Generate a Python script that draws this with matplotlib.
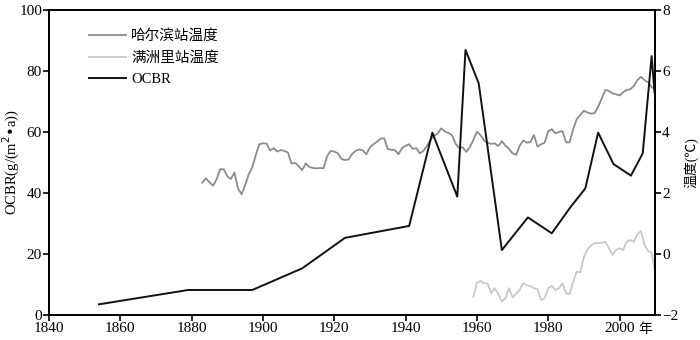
import matplotlib.pyplot as plt
import matplotlib.transforms as mtransforms

plt.rcParams['font.family'] = ['Liberation Serif', 'Noto Sans CJK SC']
plt.rcParams['axes.unicode_minus'] = True

# OCBR record (g/(m2 a))
ocbr_year = [1854, 1879, 1897, 1911, 1923, 1941, 1947.5, 1954.5, 1956.8, 1960.5,
             1967, 1974.3, 1981, 1986, 1990.4, 1994, 1998.3, 2003.2, 2006.5, 2009, 2009.8]
ocbr_val = [3.5, 8.2, 8.2, 15.3, 25.3, 29.2, 59.8, 38.8, 86.9, 76.0,
            21.3, 32.0, 26.8, 35.0, 41.5, 59.8, 49.5, 45.7, 53.0, 84.9, 73.0]

# Harbin station temperature (deg C), 1883-2010
harbin_start = 1883
harbin_temp = [2.34, 2.48, 2.35, 2.24, 2.45, 2.78, 2.78, 2.55, 2.46, 2.67,
               2.15, 1.96, 2.25, 2.61, 2.84, 3.25, 3.60, 3.63, 3.62, 3.39,
               3.47, 3.36, 3.41, 3.38, 3.33, 2.97, 2.99, 2.88, 2.75, 2.97,
               2.86, 2.82, 2.81, 2.82, 2.81, 3.21, 3.38, 3.36, 3.30, 3.12,
               3.08, 3.10, 3.28, 3.38, 3.43, 3.40, 3.27, 3.50, 3.60, 3.68,
               3.79, 3.79, 3.44, 3.42, 3.41, 3.27, 3.47, 3.55, 3.60, 3.45,
               3.47, 3.30, 3.38, 3.55, 3.74, 3.88, 3.95, 4.12, 4.02, 3.97,
               3.90, 3.62, 3.47, 3.50, 3.35, 3.50, 3.74, 4.01, 3.90, 3.72,
               3.65, 3.61, 3.63, 3.54, 3.70, 3.55, 3.45, 3.30, 3.25, 3.55,
               3.72, 3.65, 3.67, 3.90, 3.52, 3.60, 3.65, 4.03, 4.09, 3.96,
               4.00, 4.03, 3.66, 3.66, 4.10, 4.42, 4.56, 4.70, 4.64, 4.60,
               4.62, 4.83, 5.10, 5.38, 5.35, 5.27, 5.24, 5.20, 5.30, 5.38,
               5.40, 5.51, 5.70, 5.81, 5.70, 5.63, 5.47, 5.40]

# Manzhouli station temperature (deg C), 1959-2010
manzhouli_start = 1959
manzhouli_temp = [-1.40, -0.95, -0.88, -0.96, -0.97, -1.29, -1.12, -1.30, -1.56, -1.45,
                  -1.12, -1.42, -1.30, -1.18, -0.95, -1.02, -1.05, -1.12, -1.15, -1.51,
                  -1.45, -1.12, -1.05, -1.18, -1.12, -0.96, -1.29, -1.31, -0.90, -0.58,
                  -0.60, -0.09, 0.15, 0.28, 0.35, 0.36, 0.37, 0.40, 0.20, -0.03,
                  0.13, 0.19, 0.13, 0.40, 0.46, 0.40, 0.65, 0.75, 0.30, 0.10,
                  0.05, -0.63]

harbin_year = list(range(harbin_start, harbin_start + len(harbin_temp)))
manzhouli_year = list(range(manzhouli_start, manzhouli_start + len(manzhouli_temp)))

fs = 11
fig = plt.figure(figsize=(7, 3.4), dpi=100)
ax = fig.add_axes([0.07, 0.0735, 0.866, 0.897])
ax2 = ax.twinx()

ax.plot(ocbr_year, ocbr_val, color='#111111', lw=1.4, zorder=3, label='OCBR')
ax2.plot(harbin_year, harbin_temp, color='#8c8c8c', lw=1.3, label='哈尔滨站温度')
ax2.plot(manzhouli_year, manzhouli_temp, color='#c8c8c8', lw=1.3, label='满洲里站温度')
ax.set_zorder(ax2.get_zorder() + 1)
ax.patch.set_visible(False)

ax.set_xlim(1840, 2010)
ax.set_ylim(0, 100)
ax2.set_ylim(-2, 8)
ax.set_xticks(range(1840, 2001, 20))
ax.set_yticks(range(0, 101, 20))
ax2.set_yticks(range(-2, 9, 2))

for a in (ax, ax2):
    for s in a.spines.values():
        s.set_linewidth(1.3)
    a.tick_params(direction='out', length=4, width=1.2, labelsize=fs, pad=1)

ax.set_ylabel('OCBR(g/(m$^{2}$•a))', fontsize=10.5)
ax.yaxis.set_label_coords(-0.045, 0.5)
ax2.set_ylabel('温度(℃)', fontsize=10)
ax2.yaxis.set_label_coords(1.048, 0.5)

trans = mtransforms.blended_transform_factory(ax.transData, ax.transAxes)
ax.text(2007.3, -0.025, '年', transform=trans, fontsize=10, ha='center', va='top')

h1, l1 = ax2.get_legend_handles_labels()
h2, l2 = ax.get_legend_handles_labels()
ax.legend(h1 + h2, l1 + l2, loc='upper left', bbox_to_anchor=(0.045, 0.98),
          frameon=False, fontsize=10.5, handlelength=2.5, handletextpad=0.35,
          labelspacing=0.55)

fig.savefig('out.png', dpi=100)
